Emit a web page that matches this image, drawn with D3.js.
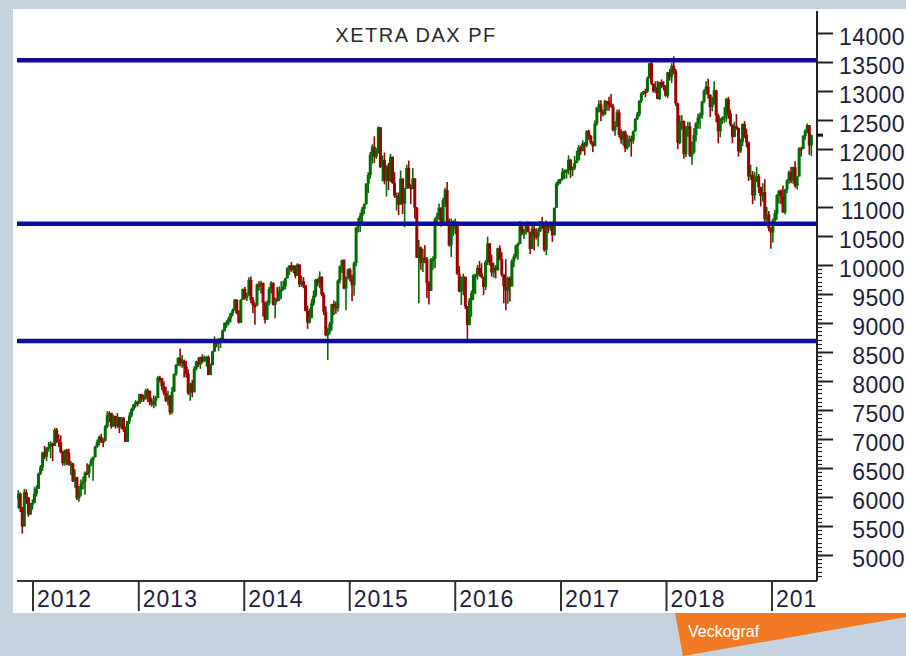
<!DOCTYPE html>
<html>
<head>
<meta charset="utf-8">
<script src="https://cdn.jsdelivr.net/npm/d3@7"></script>
<style>
html,body{margin:0;padding:0;background:#c5d2df;overflow:hidden}
text{font-family:"Liberation Sans",Arial,sans-serif}
</style>
</head>
<body>
<svg width="906" height="656"></svg>
<script>
var w = 906, h = 656;

var title = "XETRA DAX PF";
var yearLabels = ["2012","2013","2014","2015","2016","2017","2018","2019"];
var levels = [13530, 10710, 8690];
var yLabels = [5000,5500,6000,6500,7000,7500,8000,8500,9000,9500,10000,10500,11000,11500,12000,12500,13000,13500,14000];

// weekly bars, first week ends Fri 2011-11-11, open = previous close
var firstWeek = "2011-11-11";
var firstOpen = 5966;
var close = [
  // 2011
  6057,5800,5492,6080,5986,5702,5878,5898,
  // 2012
  6057,6143,6404,6512,6766,6692,6849,6864,6921,6880,7157,6996,6947,6775,6583,6801,6762,6561,6579,6271,6339,
  5978,6130,6229,6263,6416,6410,6557,6630,6689,6865,6944,7040,6971,6970,7214,7412,7451,7216,7398,7232,7380,7203,
  7364,7163,6950,7309,7405,7518,7597,7636,7612,
  // 2013
  7776,7715,7702,7834,7833,7634,7593,7661,7708,8059,8043,7912,7795,7659,7745,7460,7815,8122,8278,8399,8305,8349,
  8255,8128,7789,7959,7806,8212,8331,8284,8410,8338,8392,8416,8103,8276,8510,8675,8661,8725,8725,8869,9001,
  9010,9079,9168,9226,9405,9172,9006,9400,9589,
  // 2014
  9435,9473,9743,9393,9306,9301,9663,9657,9692,9350,9056,9342,9588,9695,9315,9409,9401,9556,9581,9629,9768,9943,
  9987,9912,9987,9815,10009,9666,9720,9644,9210,9010,9092,9339,9470,9747,9691,9799,9490,9195,8788,8850,8988,9326,
  9291,9252,9732,9980,10087,9594,9787,9922,
  // 2015
  9765,9648,10032,10649,10694,10846,10963,11050,11402,11551,11901,12040,11869,12002,12375,11689,11811,
  11454,11709,11447,11865,11414,11197,11197,11041,11492,11058,11316,11674,11347,11308,11490,10985,10124,10298,
  10038,10124,10104,9688,9553,10096,10104,10795,10850,10988,10708,11120,11293,10752,10340,10608,10727,
  // 2016
  10743,9849,9545,9765,9798,9286,8967,9388,9513,9824,9831,9950,9851,9794,9622,10051,10373,10039,
  9870,9952,9916,10287,10103,9834,9631,9558,9776,9630,10066,10147,10337,10367,10713,10544,10588,
  10684,10573,10276,10627,10511,10490,10580,10711,10696,10259,10668,10665,10699,10513,10986,11404,11450,11481,
  // 2017
  11599,11629,11630,11814,11651,11666,11757,11804,12027,11963,12095,12064,12313,12225,12109,12049,12438,
  12717,12770,12638,12602,12823,12816,12753,12733,12325,12389,12631,12240,12163,12298,12014,12166,12168,
  12143,12304,12519,12592,12829,12956,12992,12991,13217,13479,13127,12994,13060,12861,13154,13104,13073,12918,
  // 2018
  13320,13245,13434,13340,12785,12107,12452,12483,11913,12346,12390,11886,11940,12241,12442,12540,12580,
  12820,13001,13078,12938,12724,12767,13011,12580,12306,12496,12541,12561,12860,12616,12424,12211,12394,12364,
  11959,12124,12431,12247,12111,11524,11554,11201,11519,11529,11342,11193,11257,10788,10866,10634,10559,
  // 2019
  10768,10887,11205,11282,11181,10907,11300,11457,11602,11458,11686,11364,11526,12010,12000,12222,12315,
  12412,12060,12239
];
var high = [
  6120,6080,5830,6140,6130,6000,5900,5960,
  6170,6200,6420,6550,6780,6880,6860,6950,6960,6940,7190,7190,7080,7060,6800,6820,6830,6830,6620,6590,6480,
  6350,6190,6300,6350,6440,6580,6560,6670,6700,6890,6990,7060,7090,7010,7240,7480,7480,7400,7420,7400,7450,7380,
  7380,7380,7220,7310,7460,7540,7600,7670,7660,
  7780,7780,7760,7870,7870,7810,7710,7750,7740,8080,8090,8050,7990,7900,7830,7760,7900,8130,8290,8410,8560,8450,
  8370,8350,8200,7970,8020,8250,8350,8410,8420,8460,8440,8430,8440,8300,8520,8770,8690,8740,8750,8890,9010,
  9050,9110,9180,9250,9410,9400,9220,9410,9590,
  9620,9520,9790,9800,9450,9350,9680,9720,9730,9650,9370,9390,9620,9720,9700,9440,9620,9630,9720,9730,9780,9960,
  10000,10050,10000,9990,10030,10000,9820,9790,9660,9300,9250,9410,9560,9760,9770,9890,9800,9530,9290,8920,9020,9330,
  9390,9370,9750,9990,10090,10100,9800,9940,
  9950,9830,10060,10650,10810,10900,11000,11060,11410,11600,11950,12080,12220,12020,12390,12350,11890,
  11940,11720,11760,11920,11870,11600,11250,11250,11630,11140,11330,11730,11800,11390,11670,11500,11000,10430,
  10320,10280,10340,10140,9720,10120,10150,10820,10900,11060,10990,11160,11330,11430,10800,10800,10770,
  10800,10750,9980,9800,9850,9800,9290,9430,9560,9840,9850,10000,10070,10030,9800,10090,10490,10370,
  10180,10040,10000,10300,10340,10220,9840,10100,9800,9800,10100,10190,10350,10390,10760,10740,10620,
  10700,10750,10570,10690,10680,10630,10640,10760,10830,10690,10770,10740,10730,10700,10990,11430,11480,11490,
  11670,11650,11650,11890,11830,11700,11880,11970,12070,12060,12150,12120,12320,12330,12240,12130,12490,
  12720,12840,12840,12680,12850,12830,12900,12950,12780,12480,12680,12680,12340,12310,12320,12250,12230,
  12230,12320,12530,12640,12840,12980,13000,13040,13250,13480,13530,13130,13170,13170,13160,13200,13170,13100,
  13330,13380,13480,13600,13380,12800,12580,12580,12490,12400,12470,12460,12130,12360,12460,12610,12630,
  12830,13030,13170,13210,12940,12900,13170,13020,12610,12530,12560,12720,12880,12900,12680,12420,12470,12600,
  12370,12180,12440,12480,12350,12130,11730,11620,11600,11690,11570,11350,11410,11480,11000,10930,10650,
  10800,10950,11220,11290,11300,11370,11310,11480,11630,11690,11700,11790,11540,12030,12040,12240,12340,
  12440,12410,12250
];
var low = [
  5800,5740,5370,5500,5880,5660,5690,5780,
  5890,6010,6140,6380,6450,6650,6620,6780,6670,6620,6890,6930,6860,6750,6540,6540,6550,6540,6380,6260,6160,
  5950,5920,6010,6130,6040,6380,6330,6530,6280,6680,6850,6890,6930,6860,6960,7190,7290,7180,7210,7180,7190,7100,
  7170,7120,6950,6970,7260,7370,7480,7540,7560,
  7620,7640,7640,7680,7640,7580,7560,7530,7560,7720,7980,7840,7750,7640,7580,7420,7430,7820,8090,8260,8250,8230,
  8060,8060,7760,7660,7720,7810,8180,8240,8210,8300,8330,8250,8100,8110,8270,8500,8580,8520,8570,8710,8850,
  8920,8960,9010,9120,9210,9150,8990,9000,9400,
  9400,9380,9500,9340,9170,8970,9290,9560,9510,9110,8990,9080,9300,9510,9300,9080,9370,9380,9420,9560,9580,9770,
  9830,9880,9860,9770,9810,9620,9620,9600,9200,8900,8990,9080,9300,9440,9630,9600,9460,9140,8770,8360,8800,8870,
  9140,9160,9200,9680,9860,9580,9220,9750,
  9710,9380,9470,9980,10560,10570,10680,10880,11040,11240,11490,11750,11760,11830,11920,11670,11440,
  11390,11180,11290,11430,11400,11160,10940,10860,11040,10880,10650,11310,11320,11050,11310,10800,10120,9340,
  9920,9880,10030,9430,9320,9550,9920,9950,10700,10770,10660,10700,11000,10740,10320,10140,10500,
  10530,9830,9530,9310,9480,9240,8700,8960,9110,9400,9500,9750,9800,9770,9480,9570,10000,9990,
  9800,9780,9770,9900,10080,9800,9340,9220,9330,9370,9650,9960,10110,10090,10360,10510,10450,
  10520,10560,10190,10300,10250,10440,10320,10570,10620,10230,10170,10550,10590,10400,10510,11000,11370,11400,
  11460,11480,11490,11560,11500,11530,11640,11760,11800,11900,11960,11890,12030,12160,12080,11950,12060,
  12400,12630,12480,12560,12580,12660,12660,12720,12300,12230,12380,12200,12090,12060,11950,11990,12040,
  11870,12090,12300,12500,12560,12790,12930,12890,12970,13220,13100,12970,12960,12860,12850,13050,13010,12900,
  12880,13180,13140,13290,12740,12000,12080,12330,11830,11860,12210,11860,11730,11920,12130,12350,12350,
  12520,12790,12940,12870,12550,12650,12770,12460,12100,12200,12430,12450,12470,12520,12390,12100,12200,12330,
  11870,11930,12050,12190,12030,11450,11470,11050,11110,11430,11240,11010,11090,10740,10750,10580,10280,
  10390,10700,10780,11060,11050,10900,10870,11240,11400,11410,11400,11330,11300,11550,11870,12000,12160,
  12270,11900,11880
];

var green = "#006c00", red = "#9a0000";
var plotL = 17, plotR = 817, plotT = 11, plotB = 581;

var svg = d3.select("svg");

// white panel
svg.append("rect").attr("x",13).attr("y",9).attr("width",w-13).attr("height",604).attr("fill","#fff");

var x = d3.scaleTime()
  .domain([new Date(2012,0,1), new Date(2019,0,1)])
  .range([33, 772]);
var y = d3.scaleLinear().domain([5000,14000]).range([555,33]);

var parse = d3.timeParse("%Y-%m-%d");
var wk0 = parse(firstWeek);

var bars = close.map(function(c,i){
  var o = i==0 ? firstOpen : close[i-1];
  return {date:d3.timeDay.offset(wk0, 7*i), o:o, h:high[i], l:low[i], c:c};
});

var defs = svg.append("defs");
defs.append("clipPath").attr("id","plot").append("rect")
  .attr("x",plotL).attr("y",plotT).attr("width",plotR-plotL).attr("height",plotB-plotT);
defs.append("clipPath").attr("id","xlab").append("rect")
  .attr("x",plotL).attr("y",plotB).attr("width",plotR-plotL-1).attr("height",40);

// title
svg.append("text").attr("x",416).attr("y",42)
  .attr("text-anchor","middle").attr("font-size",20).attr("letter-spacing",1.5)
  .attr("fill","#2a2a2a").text(title);

var g = svg.append("g").attr("clip-path","url(#plot)");

// candles
g.selectAll(".wick").data(bars).enter().append("line")
  .attr("class","wick")
  .attr("x1",d=>x(d.date)).attr("x2",d=>x(d.date))
  .attr("y1",d=>y(Math.max(d.h,d.o,d.c))).attr("y2",d=>y(Math.min(d.l,d.o,d.c)))
  .attr("stroke",d=>d.c>=d.o?green:red).attr("stroke-width",1.6);

g.selectAll(".body").data(bars).enter().append("rect")
  .attr("class","body")
  .attr("x",d=>x(d.date)-1.5).attr("width",3)
  .attr("y",d=>y(Math.max(d.o,d.c)))
  .attr("height",d=>Math.max(2, Math.abs(y(d.o)-y(d.c))))
  .attr("fill",d=>d.c>=d.o?green:red);

// horizontal levels
g.selectAll(".level").data(levels).enter().append("line")
  .attr("x1",plotL).attr("x2",plotR)
  .attr("y1",d=>y(d)).attr("y2",d=>y(d))
  .attr("stroke","#0c0c9c").attr("stroke-width",4.5);

// y axis
svg.append("line").attr("x1",plotR).attr("x2",plotR).attr("y1",plotT).attr("y2",plotB)
  .attr("stroke","#222").attr("stroke-width",2);

var minor = d3.range(-6, 70).map(k=>5000 + k*500/7).filter(v=>y(v)>=plotT+1 && y(v)<=plotB-2);
svg.selectAll(".ytm").data(minor).enter().append("line")
  .attr("x1",plotR).attr("x2",plotR+5)
  .attr("y1",d=>Math.round(y(d))+0.5).attr("y2",d=>Math.round(y(d))+0.5)
  .attr("stroke","#222").attr("stroke-width",1.2);

svg.selectAll(".ytM").data(yLabels).enter().append("line")
  .attr("x1",plotR).attr("x2",plotR+16)
  .attr("y1",d=>Math.round(y(d))+0.5).attr("y2",d=>Math.round(y(d))+0.5)
  .attr("stroke","#222").attr("stroke-width",2);

svg.selectAll(".ylab").data(yLabels).enter().append("text")
  .attr("x",905).attr("y",d=>y(d)+12)
  .attr("text-anchor","end").attr("font-size",23).attr("letter-spacing",0.4)
  .attr("fill","#1e1e3c").text(d=>d);

// last close marker
svg.append("rect").attr("x",plotR).attr("width",6)
  .attr("y",y(close[close.length-1])-1.5).attr("height",3).attr("fill","#111");

// x axis
svg.append("line").attr("x1",plotL).attr("x2",plotR).attr("y1",plotB).attr("y2",plotB)
  .attr("stroke","#333").attr("stroke-width",2);

var xg = svg.append("g").attr("clip-path","url(#xlab)");
xg.selectAll(".div").data(yearLabels).enter().append("line")
  .attr("x1",d=>x(parse(d+"-01-01"))).attr("x2",d=>x(parse(d+"-01-01")))
  .attr("y1",plotB).attr("y2",611)
  .attr("stroke","#333").attr("stroke-width",2);
xg.selectAll(".xlab").data(yearLabels).enter().append("text")
  .attr("x",d=>x(parse(d+"-01-01"))+4).attr("y",607)
  .attr("font-size",23).attr("letter-spacing",1)
  .attr("fill","#1e1e3c").text(d=>d);

// Veckograf tag
svg.append("polygon").attr("points","675,613 906,613 906,617 683,656")
  .attr("fill","#f27a22");
svg.append("text").attr("x",688).attr("y",637).attr("font-size",16)
  .attr("fill","#fff").text("Veckograf");
</script>
</body>
</html>
